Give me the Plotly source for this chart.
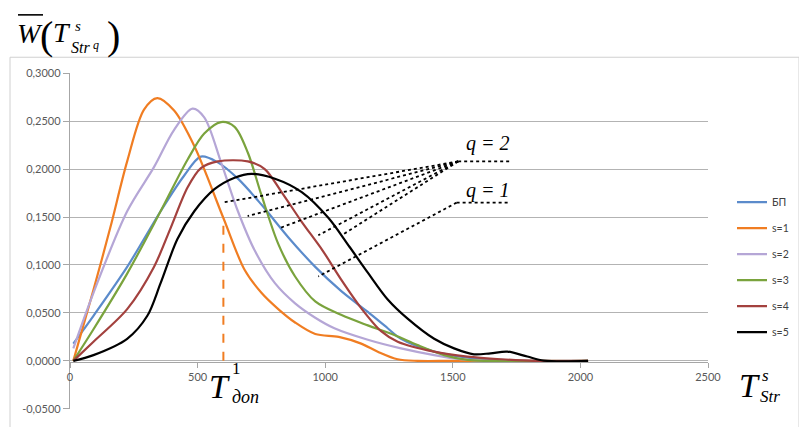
import plotly.graph_objects as go

# ---------------- data ----------------
x_bp = [13, 92, 224, 355, 447, 513, 579, 658, 750, 855, 961, 1062, 1167, 1245, 1297, 1427, 1557, 1688, 1818, 2030]
y_bp = [0.018, 0.047, 0.098, 0.156, 0.193, 0.213, 0.207, 0.190, 0.163, 0.129, 0.098, 0.073, 0.051, 0.034, 0.023, 0.0096, 0.0034, 0.001, 0, 0]

x_s1 = [13, 92, 158, 224, 290, 342, 408, 487, 601, 684, 750, 816, 882, 961, 1053, 1141, 1206, 1284, 1362, 1500, 2030]
y_s1 = [0, 0.074, 0.139, 0.208, 0.262, 0.274, 0.261, 0.224, 0.149, 0.095, 0.071, 0.054, 0.040, 0.028, 0.025, 0.018, 0.0096, 0.0017, 0, 0, 0]

x_s2 = [13, 92, 224, 329, 408, 480, 526, 592, 658, 724, 803, 882, 961, 1036, 1167, 1297, 1427, 1531, 1650, 2030]
y_s2 = [0.013, 0.071, 0.156, 0.202, 0.241, 0.263, 0.254, 0.207, 0.156, 0.115, 0.081, 0.060, 0.045, 0.034, 0.022, 0.013, 0.006, 0.0017, 0, 0]

x_s3 = [13, 92, 224, 355, 461, 526, 592, 645, 697, 750, 816, 882, 961, 1062, 1167, 1271, 1362, 1466, 1557, 2030]
y_s3 = [0, 0.033, 0.091, 0.156, 0.210, 0.237, 0.249, 0.244, 0.217, 0.173, 0.122, 0.088, 0.062, 0.048, 0.037, 0.027, 0.0164, 0.006, 0.001, 0]

x_s4 = [13, 92, 224, 329, 395, 461, 513, 579, 697, 763, 829, 908, 990, 1062, 1141, 1219, 1284, 1427, 1557, 1688, 1818, 2030]
y_s4 = [0, 0.020, 0.054, 0.098, 0.139, 0.181, 0.201, 0.208, 0.208, 0.200, 0.176, 0.145, 0.115, 0.085, 0.055, 0.031, 0.020, 0.0096, 0.0045, 0.0017, 0, 0]

x_s5 = [13, 92, 224, 303, 355, 421, 487, 566, 645, 711, 803, 908, 1013, 1095, 1167, 1245, 1323, 1427, 1505, 1583, 1648, 1714, 1792, 1857, 2030]
y_s5 = [0, 0.006, 0.023, 0.047, 0.081, 0.127, 0.156, 0.179, 0.191, 0.195, 0.190, 0.176, 0.149, 0.119, 0.092, 0.064, 0.044, 0.023, 0.013, 0.0068, 0.0079, 0.0096, 0.0045, 0.0003, 0]

series_names = ["БП", "s=1", "s=2", "s=3", "s=4", "s=5"]

# T_доп marker (value on s=1 curve)
t_don_x = [601, 601]
t_don_y = [0, 0.149]

# leader lines for q labels
q2_origin = (1521, 0.208)
q2_targets = [(597, 0.165), (696, 0.151), (827, 0.139), (973, 0.131), (1065, 0.131)]
q1_origin = (1515, 0.165)
q1_targets = [(973, 0.088)]
q_line_end_x = 1721

x_ticks = [0, 500, 1000, 1500, 2000, 2500]
y_ticks = [-0.05, 0, 0.05, 0.10, 0.15, 0.20, 0.25, 0.30]
y_ticktext = ["-0,0500", "0,0000", "0,0500", "0,1000", "0,1500", "0,2000", "0,2500", "0,3000"]

colors = ["#5b8bcb", "#f07d22", "#b5a6d6", "#7aa33d", "#a3413e", "#000000"]

# ---------------- figure ----------------
OFF = 8  # default page body margin of the html page
W, H = 807 - OFF, 427 - OFF
ML, MR, MT, MB = 70 - OFF, 99, 73 - OFF, 13
PW, PH = W - ML - MR, H - MT - MB


def px(xp):
    return (xp - OFF - ML) / PW


def py(yp):
    return (H - MB - (yp - OFF)) / PH


fig = go.Figure()
xs = [x_bp, x_s1, x_s2, x_s3, x_s4, x_s5]
ys = [y_bp, y_s1, y_s2, y_s3, y_s4, y_s5]
for i, (xx, yy, nm, c) in enumerate(zip(xs, ys, series_names, colors)):
    fig.add_trace(go.Scatter(x=xx, y=yy, name=nm, mode="lines",
                             line=dict(color=c, width=2.2, shape="spline", smoothing=0.9),
                             legendgroup=f"g{i}"))

fig.add_trace(go.Scatter(x=t_don_x, y=t_don_y, mode="lines", showlegend=False,
                         line=dict(color=colors[1], width=2, dash="dash")))

# leader lines (dotted)
for (ox, oy), targets in [(q2_origin, q2_targets), (q1_origin, q1_targets)]:
    for tx, ty in targets:
        fig.add_shape(type="line", x0=ox, y0=oy, x1=tx, y1=ty, xref="x", yref="y",
                      line=dict(color="black", width=1.8, dash="dot"))
    fig.add_shape(type="line", x0=ox, y0=oy, x1=q_line_end_x, y1=oy, xref="x", yref="y",
                  line=dict(color="black", width=1.8, dash="dot"))

# outer chart frame
fig.add_shape(type="rect", xref="paper", yref="paper", x0=px(10), x1=px(799), y0=py(445), y1=py(57),
              line=dict(color="#d0d0d0", width=1), layer="below")

serif = "Liberation Serif"
ann = []


def txt(x, y, s, size, xa="center", ya="middle", color="black", italic=True):
    t = f"<i>{s}</i>" if italic else s
    ann.append(dict(x=px(x), y=py(y), xref="paper", yref="paper", text=t, showarrow=False,
                    xanchor=xa, yanchor=ya, font=dict(family=serif, size=size, color=color)))


# q labels
txt(488, 145, "q = 2", 20)
txt(488, 192, "q = 1", 20)

# T доп label
txt(219, 391, "T", 34)
txt(236, 373, "1", 17, italic=False)
txt(230, 402, "доп", 18, xa="left")

# T^s_Str label
txt(749, 390, "T", 34)
txt(765, 380, "s", 17)
txt(758, 401, "Str", 17, xa="left")

# y title  W̄(T^s_Str q)
txt(30, 33, "W", 28)
txt(46, 35, "(", 40, italic=False)
txt(62, 32, "T", 28)
txt(78, 25, "s", 15)
txt(80, 47, "Str", 16)
txt(96, 45, "q", 12)
txt(113, 35, ")", 40, italic=False)
fig.add_shape(type="line", xref="paper", yref="paper", x0=px(18), x1=px(43), y0=py(14), y1=py(14),
              line=dict(color="black", width=1.6))

fig.update_layout(
    width=W, height=H,
    margin=dict(l=ML, r=MR, t=MT, b=MB),
    plot_bgcolor="white", paper_bgcolor="white",
    font=dict(family="Lato", size=11, color="#595959"),
    showlegend=True,
    legend=dict(x=px(732), y=py(270), xanchor="left", yanchor="middle",
                font=dict(family="Lato", size=10.5, color="#404040"),
                tracegroupgap=7, bgcolor="rgba(0,0,0,0)", itemwidth=30),
    annotations=ann,
)

fig.update_xaxes(range=[0, 2500], anchor="free", position=py(366), tickvals=x_ticks,
                 ticks="outside", ticklen=5, tickcolor="#a6a6a6", showline=True,
                 linecolor="#a6a6a6", linewidth=1.3, showgrid=False, zeroline=False,
                 tickfont=dict(family="Lato", size=11, color="#595959"))
fig.update_yaxes(range=[-0.0502, 0.3002], tickvals=y_ticks, ticktext=y_ticktext,
                 ticks="outside", ticklen=6, tickcolor="#a6a6a6", showline=True,
                 linecolor="#a6a6a6", linewidth=1.3, showgrid=True, gridcolor="#b3b3b3",
                 gridwidth=1.3, zeroline=False,
                 tickfont=dict(family="Lato", size=11, color="#595959"))

fig.write_html("out.html")
